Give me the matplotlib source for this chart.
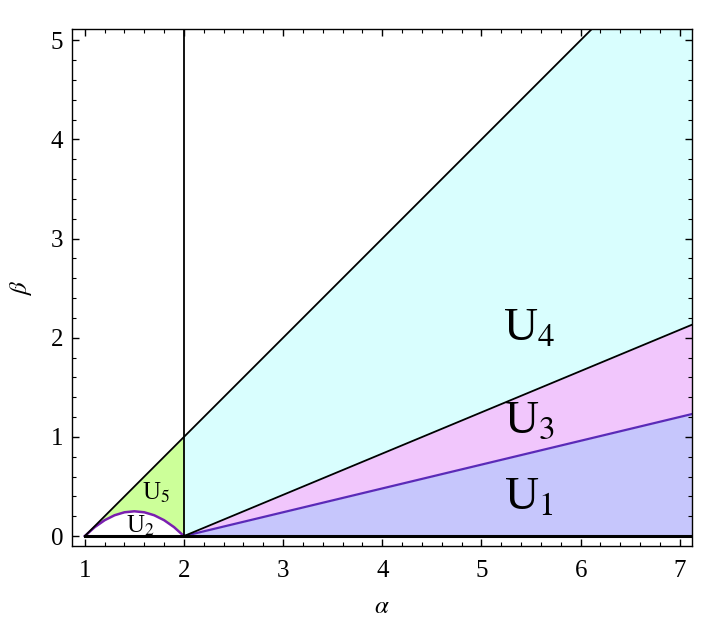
import matplotlib
matplotlib.use("Agg")
import matplotlib.pyplot as plt
from matplotlib.ticker import MultipleLocator

plt.rcParams['font.family'] = ['Liberation Serif', 'DejaVu Serif']
plt.rcParams['mathtext.fontset'] = 'stix'

# boundary curves
alpha_arc = [1.0, 1.1, 1.2, 1.3, 1.4, 1.5, 1.6, 1.7, 1.8, 1.9, 2.0]
beta_arc = [0.0, 0.09, 0.16, 0.21, 0.24, 0.25, 0.24, 0.21, 0.16, 0.09, 0.0]
beta_diag_arc = [0.0, 0.1, 0.2, 0.3, 0.4, 0.5, 0.6, 0.7, 0.8, 0.9, 1.0]

alpha_lin = [2.0, 7.12]
beta_u13 = [0.0, 1.23]
beta_u34 = [0.0, 2.13]
beta_diag = [1.0, 6.12]

alpha_diag = [1.0, 6.3]
beta_diag_full = [0.0, 5.3]

region_names = ['U$_4$', 'U$_3$', 'U$_1$', 'U$_5$', 'U$_2$']
region_pos = [(5.48, 2.08), (5.48, 1.16), (5.48, 0.38), (1.72, 0.44), (1.56, 0.1)]
region_size = [34, 34, 34, 18, 18]

fig = plt.figure(figsize=(7.11, 6.35), dpi=100)
ax = fig.add_axes([0.101, 0.140, 0.872, 0.814])

# fills
ax.fill_between(alpha_lin, 0, beta_u13, color='#c6c6fc', lw=0)
ax.fill_between(alpha_lin, beta_u13, beta_u34, color='#f1c6fc', lw=0)
ax.fill_between(alpha_lin, beta_u34, beta_diag, color='#d9fefe', lw=0)
ax.fill_between(alpha_arc, beta_arc, beta_diag_arc, color='#ccff99', lw=0)

# boundaries
ax.plot(alpha_arc, beta_arc, color='#7a1fb0', lw=1.8)
ax.plot(alpha_lin, beta_u13, color='#5a2ab8', lw=1.6)
ax.plot(alpha_lin, beta_u34, color='black', lw=1.3)
ax.plot(alpha_diag, beta_diag_full, color='black', lw=1.3)
ax.plot([2, 2], [0, 5.3], color='black', lw=1.3)
ax.plot([1, 7.12], [0, 0], color='black', lw=2.2)

for name, (x, y), s in zip(region_names, region_pos, region_size):
    ax.text(x, y, name, fontsize=s, ha='center', va='center')

ax.set_xlim(0.869, 7.121)
ax.set_ylim(-0.101, 5.111)
ax.xaxis.set_major_locator(MultipleLocator(1))
ax.xaxis.set_minor_locator(MultipleLocator(0.2))
ax.yaxis.set_major_locator(MultipleLocator(1))
ax.yaxis.set_minor_locator(MultipleLocator(0.2))
ax.tick_params(which='both', direction='in', top=True, right=True, labelsize=18)
ax.tick_params(axis='x', which='major', pad=10)
ax.tick_params(axis='y', which='major', pad=6)
ax.tick_params(which='major', length=5, width=1)
ax.tick_params(which='minor', length=3, width=0.8)
for sp in ax.spines.values():
    sp.set_linewidth(1.0)

ax.set_xlabel(r'$\alpha$', fontsize=18, labelpad=10)
ax.set_ylabel(r'$\beta$', fontsize=18, labelpad=12)

fig.savefig('out.png', dpi=100)
